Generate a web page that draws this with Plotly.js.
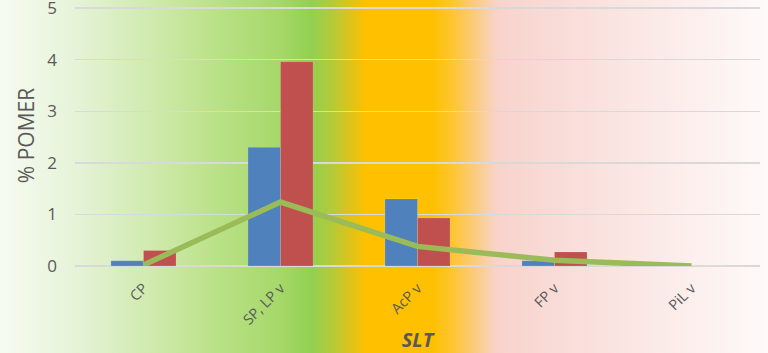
<!DOCTYPE html>
<html>
<head>
<meta charset="utf-8">
<script src="https://cdn.plot.ly/plotly-3.0.1.min.js"></script>
<style>
  html, body { margin: 0; padding: 0; }
  #chart {
    width: 768px; height: 353px;
    background: linear-gradient(to right,
      #F6FBF1 0px, #E6F3D8 75px, #CDE9A9 160px, #BCE28B 210px, #A5D869 280px,
      #92D050 312px, #B4CA38 332px, #D8C41E 348px, #FFC000 366px, #FFC000 432px,
      #FEC530 452px, #FBCB80 475px, #F8D3CC 497px, #F9DCD8 560px, #FBE9E6 650px,
      #FEFAF9 768px);
  }
</style>
</head>
<body>
<div id="chart"></div>
<script>
// Share of POMER per SLT class
const categories = ['CP', 'SP, LP v', 'AcP v', 'FP v', 'PiL v'];
const seriesBlue = [0.10, 2.30, 1.30, 0.10, 0];
const seriesRed = [0.30, 3.96, 0.93, 0.27, 0];
const seriesLine = [0.02, 1.24, 0.38, 0.11, 0];
const yTicks = [0, 1, 2, 3, 4, 5];

const font = 'Open Sans, Noto Sans, sans-serif';
const grey = '#595959';

const traces = [
  {
    type: 'bar', x: categories, y: seriesBlue, name: 'A',
    marker: { color: '#4F81BD', line: { color: 'rgba(255,255,255,0.25)', width: 0.6 } }
  },
  {
    type: 'bar', x: categories, y: seriesRed, name: 'B',
    marker: { color: '#C0504D', line: { color: 'rgba(255,255,255,0.25)', width: 0.6 } }
  },
  {
    type: 'scatter', mode: 'lines', x: categories, y: seriesLine, name: 'C',
    line: { color: '#9BBB59', width: 5.5 }
  }
];

const layout = {
  width: 768, height: 353,
  margin: { l: 75, r: 8, t: 5, b: 87 },
  paper_bgcolor: 'rgba(0,0,0,0)',
  plot_bgcolor: 'rgba(0,0,0,0)',
  showlegend: false,
  barmode: 'group',
  bargap: 0.525,
  bargroupgap: 0,
  font: { family: font, color: grey },
  xaxis: {
    type: 'category',
    tickangle: -45,
    tickfont: { size: 14.5, color: grey, family: font },
    ticklabelstandoff: 10,
    showgrid: false, zeroline: false, showline: false, ticks: '',
    automargin: false,
    title: { text: '<b><i>SLT</i></b>', font: { size: 20, color: grey, family: font }, standoff: 10 }
  },
  yaxis: {
    range: [0, 5.06],
    tickvals: yTicks,
    ticktext: yTicks.map(String),
    tickfont: { size: 17, color: grey, family: font },
    ticklabelstandoff: 17,
    ticklabeloverflow: 'allow',
    showgrid: true, gridcolor: '#D9D9D9', gridwidth: 1.5,
    zeroline: true, zerolinecolor: '#D9D9D9', zerolinewidth: 1.5,
    showline: false, ticks: '',
    automargin: false,
    title: { text: '% POMER', font: { size: 21, color: grey, family: font }, standoff: 6 }
  }
};

Plotly.newPlot('chart', traces, layout, { displayModeBar: false, staticPlot: true });
</script>
</body>
</html>
